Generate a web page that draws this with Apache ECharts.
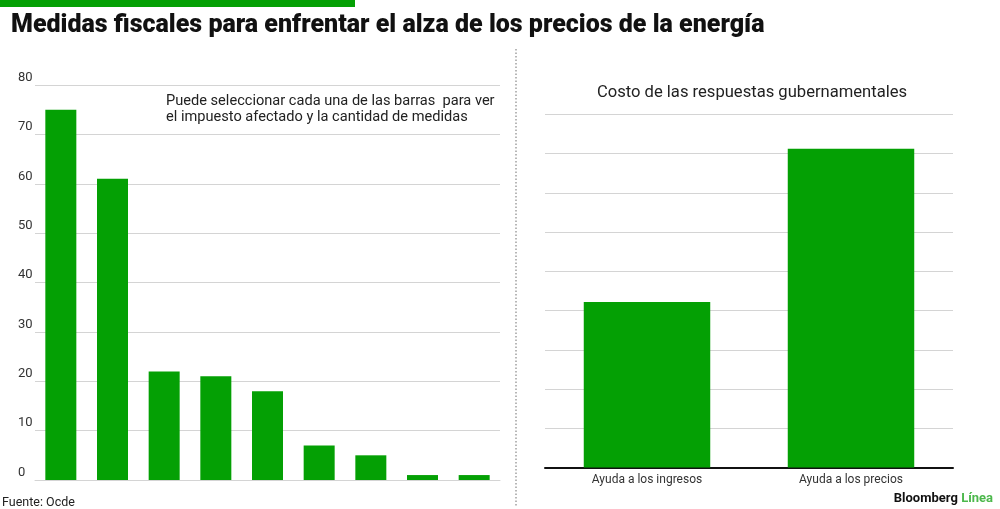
<!DOCTYPE html>
<html><head><meta charset="utf-8">
<script src="https://cdn.jsdelivr.net/npm/echarts@6/dist/echarts.min.js"></script>
<style>html,body{margin:0;padding:0;background:#fff}#c{width:1000px;height:509px}</style>
</head><body><div id="c"></div>
<script>
const medidasCategorias = ['1','2','3','4','5','6','7','8','9'];
const medidasValores = [75, 61, 22, 21, 18, 7, 5, 1, 1];
const medidasTicks = [0, 10, 20, 30, 40, 50, 60, 70, 80];
const costoCategorias = ['Ayuda a los ingresos', 'Ayuda a los precios'];
const costoValores = [4.22, 8.12];

const GREEN = '#04a004';
const FONT = 'Roboto, "Noto Sans", sans-serif';
const chart = echarts.init(document.getElementById('c'), null, {renderer: 'canvas'});
chart.setOption({
  animation: false,
  backgroundColor: '#fff',
  textStyle: {fontFamily: FONT},
  title: [
    {text: 'Medidas fiscales para enfrentar el alza de los precios de la energía', left: 6, top: 8,
     textStyle: {fontFamily: FONT, fontWeight: 900, fontSize: 25, color: '#111'}},
    {text: 'Costo de las respuestas gubernamentales', left: 747, textAlign: 'center', top: 79,
     textStyle: {fontFamily: FONT, fontWeight: 'normal', fontSize: 16.6, color: '#222'}}
  ],
  graphic: [
    {type: 'rect', left: 0, top: 0, shape: {width: 355, height: 7}, style: {fill: GREEN}},
    {type: 'line', shape: {x1: 516, y1: 49, x2: 516, y2: 506}, style: {stroke: '#888', lineWidth: 1.2, lineDash: [1.5, 2]}},
    {type: 'text', left: 166, top: 93, style: {text: 'Puede seleccionar cada una de las barras  para ver\nel impuesto afectado y la cantidad de medidas', font: '14.6px ' + FONT, fill: '#222', lineHeight: 16}},
    {type: 'text', left: 2, top: 496, style: {text: 'Fuente: Ocde', font: '12.5px ' + FONT, fill: '#222'}},
    {type: 'text', right: 7, top: 492, style: {
      text: '{a|Bloomberg} {b|Línea}',
      rich: {a: {fontFamily: FONT, fontWeight: 'bold', fontSize: 13, fill: '#111'},
             b: {fontFamily: FONT, fontWeight: 'bold', fontSize: 13, fill: '#4cb84c'}}}}
  ],
  grid: [
    {left: 35, right: 500, top: 85, bottom: 29},
    {left: 545, right: 47, top: 114.3, bottom: 41.5}
  ],
  xAxis: [
    {type: 'category', gridIndex: 0, data: medidasCategorias,
     axisLine: {lineStyle: {color: '#d4d4d4'}}, axisTick: {show: false}, axisLabel: {show: false}},
    {type: 'category', gridIndex: 1, data: costoCategorias,
     axisLine: {lineStyle: {color: '#111', width: 2}}, axisTick: {show: false},
     axisLabel: {color: '#333', fontSize: 12, margin: 6, fontFamily: FONT}}
  ],
  yAxis: [
    {type: 'value', gridIndex: 0, min: medidasTicks[0], max: medidasTicks[medidasTicks.length - 1], interval: 10,
     axisLine: {show: false}, axisTick: {show: false},
     axisLabel: {align: 'left', margin: 17, verticalAlign: 'bottom', padding: [0, 0, 1, 0], color: '#333', fontSize: 13, fontFamily: FONT},
     splitLine: {lineStyle: {color: '#d4d4d4'}}},
    {type: 'value', gridIndex: 1, min: 0, max: 9, interval: 1,
     axisLine: {show: false}, axisTick: {show: false}, axisLabel: {show: false},
     splitLine: {lineStyle: {color: '#d4d4d4'}}}
  ],
  series: [
    {type: 'bar', xAxisIndex: 0, yAxisIndex: 0, data: medidasValores, barWidth: '60%', itemStyle: {color: GREEN}},
    {type: 'bar', xAxisIndex: 1, yAxisIndex: 1, data: costoValores, barWidth: '62%', itemStyle: {color: GREEN}}
  ]
});
</script></body></html>
